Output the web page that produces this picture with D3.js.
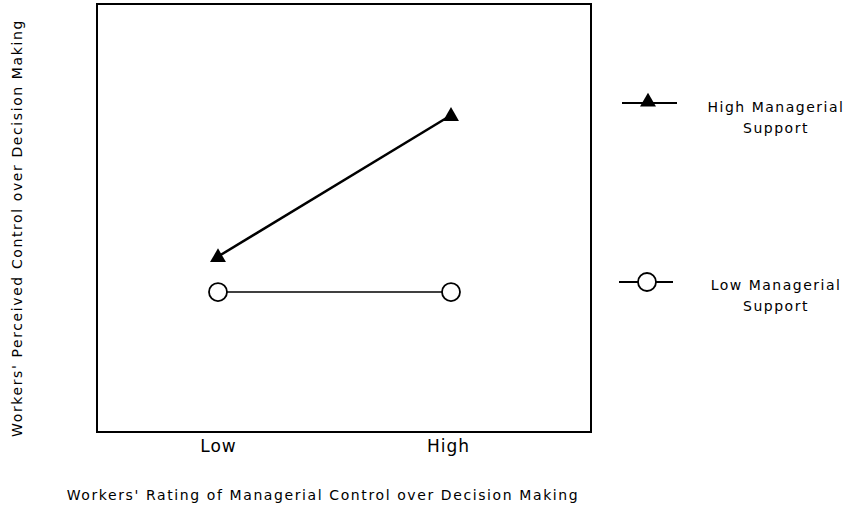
<!DOCTYPE html>
<html>
<head>
<meta charset="utf-8">
<script src="https://cdn.jsdelivr.net/npm/d3@7"></script>
<style>
  body { margin: 0; background: #fff; }
  text { font-family: "DejaVu Sans", sans-serif; fill: #000; }
</style>
</head>
<body>
<div id="chart"></div>
<script>
// categories on the x axis
var levels = ["Low", "High"];
// series values (perceived control, 0-10 scale)
var highSupport = [4.1, 7.4];
var lowSupport = [3.27, 3.27];
var seriesNames = [["High Managerial", "Support"], ["Low Managerial", "Support"]];

var width = 850, height = 508;
var box = {left: 97, top: 4, right: 591, bottom: 432};

var svg = d3.select("#chart").append("svg")
    .attr("width", width)
    .attr("height", height);

var x = d3.scalePoint().domain(levels).range([218, 451]);
var y = d3.scaleLinear().domain([0, 10]).range([box.bottom, box.top]);

// frame
svg.append("rect")
    .attr("x", box.left).attr("y", box.top)
    .attr("width", box.right - box.left).attr("height", box.bottom - box.top)
    .attr("fill", "none").attr("stroke", "#000").attr("stroke-width", 2);

// x tick labels
var xAxis = d3.axisBottom(x).tickSize(0).tickPadding(0);
var gx = svg.append("g").attr("transform", "translate(0," + box.bottom + ")").call(xAxis);
gx.select(".domain").remove();
gx.selectAll("text")
    .attr("dy", null).attr("y", 20)
    .attr("dx", function (d) { return d === "High" ? -3 : 0; })
    .style("font-family", "'DejaVu Sans', sans-serif")
    .style("font-size", "17px").style("letter-spacing", "1px");

var line = d3.line().x(function (d, i) { return x(levels[i]); }).y(function (d) { return y(d); });

var tri = d3.symbol().type(d3.symbolTriangle).size(110);

// high support series
svg.append("path").datum(highSupport)
    .attr("d", line).attr("fill", "none").attr("stroke", "#000").attr("stroke-width", 2.5);
svg.selectAll(".triMark").data(highSupport).join("path")
    .attr("class", "triMark")
    .attr("transform", function (d, i) { return "translate(" + x(levels[i]) + "," + (y(d) + 1) + ")"; })
    .attr("d", tri).attr("fill", "#000");

// low support series
svg.append("path").datum(lowSupport)
    .attr("d", line).attr("fill", "none").attr("stroke", "#000").attr("stroke-width", 1.5);
svg.selectAll(".circMark").data(lowSupport).join("circle")
    .attr("class", "circMark")
    .attr("cx", function (d, i) { return x(levels[i]); })
    .attr("cy", function (d) { return y(d); })
    .attr("r", 9).attr("fill", "#fff").attr("stroke", "#000").attr("stroke-width", 1.8);

// legend
var legendRows = [{y: 103, lineX: [622, 677], markX: 648, textY: 112}, {y: 282, lineX: [619, 673], markX: 647, textY: 290}];
legendRows.forEach(function (r, i) {
  var g = svg.append("g");
  g.append("line").attr("x1", r.lineX[0]).attr("x2", r.lineX[1]).attr("y1", r.y).attr("y2", r.y)
      .attr("stroke", "#000").attr("stroke-width", 1.8);
  if (i === 0) {
    g.append("path").attr("transform", "translate(" + r.markX + "," + (r.y - 1) + ")").attr("d", tri).attr("fill", "#000");
  } else {
    g.append("circle").attr("cx", r.markX).attr("cy", r.y).attr("r", 9)
        .attr("fill", "#fff").attr("stroke", "#000").attr("stroke-width", 1.8);
  }
  g.selectAll("text").data(seriesNames[i]).join("text")
      .attr("x", 776).attr("y", function (d, j) { return r.textY + j * 21; })
      .attr("text-anchor", "middle")
      .style("font-size", "14px").style("letter-spacing", "1.5px")
      .text(function (d) { return d; });
});

// axis titles
svg.append("text")
    .attr("x", 323).attr("y", 500)
    .attr("text-anchor", "middle")
    .style("font-size", "14px").style("letter-spacing", "1.6px")
    .text("Workers' Rating of Managerial Control over Decision Making");

svg.append("text")
    .attr("transform", "translate(22,228) rotate(-90)")
    .attr("text-anchor", "middle")
    .style("font-size", "14px").style("letter-spacing", "1.6px")
    .text("Workers' Perceived Control over Decision Making");
</script>
</body>
</html>
